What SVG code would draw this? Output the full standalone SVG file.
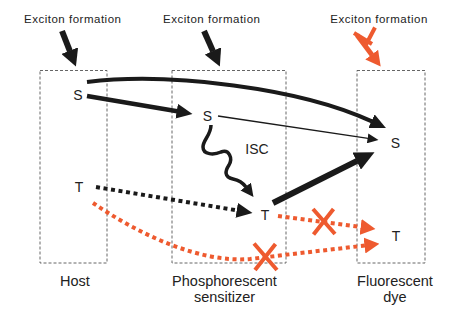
<svg xmlns="http://www.w3.org/2000/svg" width="464" height="309" viewBox="0 0 464 309">
<style>
.box{fill:none;stroke:#555;stroke-width:0.9;stroke-dasharray:3 2}
.lbl{font-family:"Liberation Sans",Arial,sans-serif;fill:#222;text-anchor:middle}
.top{font-size:11.5px}
.big{font-size:14.5px}
.st{font-size:14px}
.blk{fill:none;stroke:#1a1a1a;stroke-linecap:butt}
.org{fill:none;stroke:#EE5A2F;stroke-linecap:butt}
.dot{stroke-dasharray:4 3.6}
.x{fill:none;stroke:#EE5A2F;stroke-width:4;stroke-linecap:butt}
</style>
<defs>
<marker id="mk-big" markerUnits="userSpaceOnUse" markerWidth="17" markerHeight="18" viewBox="0 0 17 18" refX="0.5" refY="9" orient="auto"><path d="M0,0 L17,9 L0,18 z" fill="#1a1a1a"/></marker>
<marker id="mk-thick" markerUnits="userSpaceOnUse" markerWidth="20" markerHeight="19" viewBox="0 0 20 19" refX="0.5" refY="9.5" orient="auto"><path d="M0,0 L20,9.5 L0,19 z" fill="#1a1a1a"/></marker>
<marker id="mk-med" markerUnits="userSpaceOnUse" markerWidth="16" markerHeight="15" viewBox="0 0 16 15" refX="0.5" refY="7.5" orient="auto"><path d="M0,0 L16,7.5 L0,15 z" fill="#1a1a1a"/></marker>
<marker id="mk-small" markerUnits="userSpaceOnUse" markerWidth="11" markerHeight="10" viewBox="0 0 11 10" refX="0.5" refY="5" orient="auto"><path d="M0,0 L11,5 L0,10 z" fill="#1a1a1a"/></marker>
<marker id="mk-wave" markerUnits="userSpaceOnUse" markerWidth="13" markerHeight="13" viewBox="0 0 13 13" refX="0.5" refY="6.5" orient="auto"><path d="M0,0 L13,6.5 L0,13 z" fill="#1a1a1a"/></marker>
<marker id="mk-org" markerUnits="userSpaceOnUse" markerWidth="15" markerHeight="16" viewBox="0 0 15 16" refX="0.5" refY="8" orient="auto"><path d="M0,0 L15,8 L0,16 z" fill="#EE5A2F"/></marker>
</defs>

<text class="lbl top" x="72.5" y="23" textLength="97" lengthAdjust="spacing">Exciton formation</text>
<text class="lbl top" x="211.5" y="23" textLength="97" lengthAdjust="spacing">Exciton formation</text>
<text class="lbl top" x="378.8" y="23" textLength="97" lengthAdjust="spacing">Exciton formation</text>

<g id="host">
<rect class="box" x="40" y="70.5" width="67" height="192.5"/>
<text class="lbl st" x="78" y="100">S</text>
<text class="lbl st" x="79" y="192">T</text>
<text class="lbl big" x="75" y="286">Host</text>
</g>
<g id="sensitizer">
<rect class="box" x="172" y="70.5" width="114" height="192.5"/>
<text class="lbl st" x="207.5" y="120.5">S</text>
<text class="lbl st" x="265" y="220">T</text>
<text class="lbl big" x="224.5" y="286">Phosphorescent</text>
<text class="lbl big" x="224.5" y="301.5">sensitizer</text>
</g>
<g id="dye">
<rect class="box" x="357" y="70.5" width="68" height="192.5"/>
<text class="lbl st" x="395.5" y="148">S</text>
<text class="lbl st" x="396" y="241">T</text>
<text class="lbl big" x="395" y="286">Fluorescent</text>
<text class="lbl big" x="395" y="301.5">dye</text>
</g>

<g id="connectors">
<path class="blk" stroke-width="6" d="M62,31 L69.9,51.1" marker-end="url(#mk-big)"/>
<path class="blk" stroke-width="6" d="M204,31 L213.1,51.4" marker-end="url(#mk-big)"/>
<path class="org" stroke-width="5" d="M357,35 L372,55" marker-end="url(#mk-org)"/>
<path class="x" d="M354,33 L372,44 M375,27.5 L365,46.5"/>

<path class="blk" stroke-width="4" d="M87,82 C170,72 300,88 371.9,121.4" marker-end="url(#mk-med)"/>
<path class="blk" stroke-width="4.5" d="M87,96 L177.2,111.3" marker-end="url(#mk-med)"/>
<path class="blk" stroke-width="1.3" d="M218,116 L368.1,138.4" marker-end="url(#mk-small)"/>
<path class="blk" stroke-width="3.5" d="M211,125 C211,135 203,140 203,147 C203,155 214,155 221,152 C229,149 233,158 229,165 C225,171 224,177 233,179 C238,180 243,183 246,187" marker-end="url(#mk-wave)"/>
<text class="lbl st" x="257" y="153.5">ISC</text>
<path class="blk" stroke-width="6" d="M273,203 L357.1,160.9" marker-end="url(#mk-thick)"/>
<path class="blk dot" stroke-width="4" d="M96,187 L237.2,210.4" marker-end="url(#mk-med)"/>
<path class="org dot" stroke-width="4" d="M278,216 L361.1,227" marker-end="url(#mk-org)"/>
<path class="x" d="M313,209 L335,234 M333.5,209 L313.5,234.5"/>
<path class="org dot" stroke-width="4" d="M93,203 C140,235 200,263 250,259 L365,245.5" marker-end="url(#mk-org)"/>
<path class="x" d="M254,243.5 L277,270 M275.5,244 L255,270"/>
</g>
</svg>
